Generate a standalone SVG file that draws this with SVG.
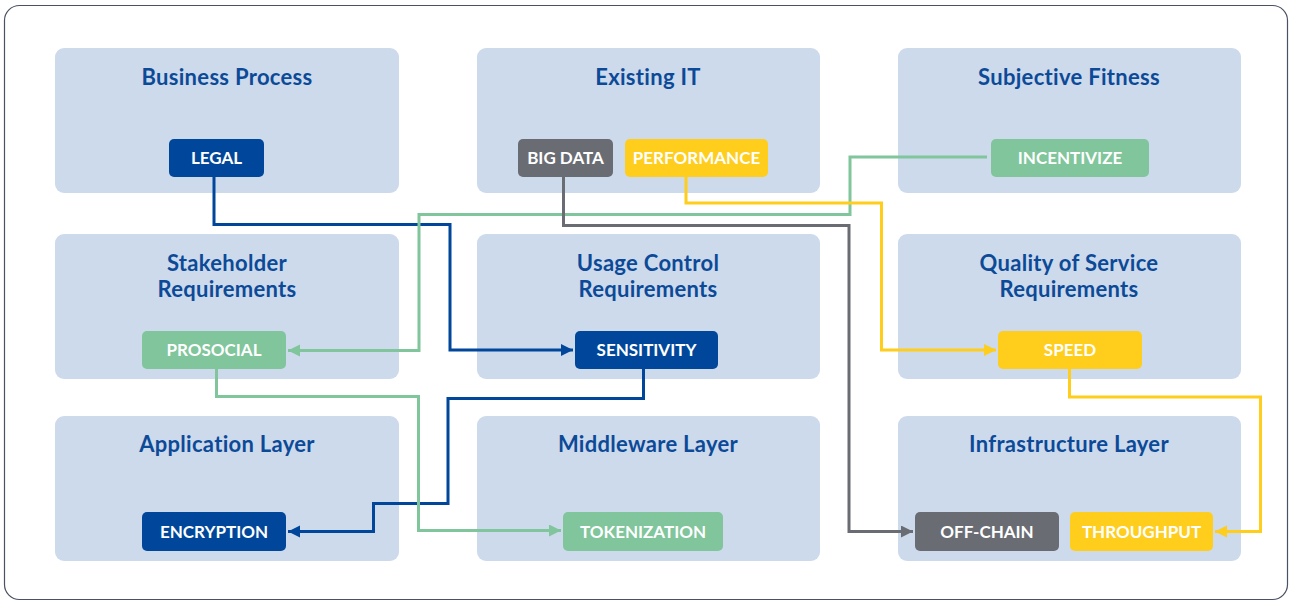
<svg xmlns="http://www.w3.org/2000/svg" width="1291" height="603" viewBox="0 0 1291 603">
<defs>
<style>
.panel{fill:#ccdaec}
.title{font-family:Lato,"Open Sans",sans-serif;font-weight:700;font-size:22px;fill:#0c4a98;text-anchor:middle;letter-spacing:0.3px}
.chip text{font-family:Lato,"Open Sans",sans-serif;font-weight:700;font-size:17px;fill:#ffffff;text-anchor:middle}
.blue{fill:#00479b}.gray{fill:#6a6c74}.yellow{fill:#ffcd1c}.green{fill:#80c59b}
.c{fill:none;stroke-width:3;stroke-linejoin:miter}
.cb{stroke:#00479b}.cg{stroke:#80c59b}.cy{stroke:#ffcd1c}.cd{stroke:#6a6c74}
</style>
<marker id="ab" markerUnits="userSpaceOnUse" markerWidth="14" markerHeight="14" refX="12" refY="6" orient="auto"><path d="M0,0L12,6L0,12z" fill="#00479b"/></marker>
<marker id="ag" markerUnits="userSpaceOnUse" markerWidth="14" markerHeight="14" refX="12" refY="6" orient="auto"><path d="M0,0L12,6L0,12z" fill="#80c59b"/></marker>
<marker id="ay" markerUnits="userSpaceOnUse" markerWidth="14" markerHeight="14" refX="12" refY="6" orient="auto"><path d="M0,0L12,6L0,12z" fill="#ffcd1c"/></marker>
<marker id="ad" markerUnits="userSpaceOnUse" markerWidth="14" markerHeight="14" refX="12" refY="6" orient="auto"><path d="M0,0L12,6L0,12z" fill="#6a6c74"/></marker>
</defs>
<rect x="4.5" y="5.5" width="1283" height="594" rx="15" fill="#ffffff" stroke="#4a5162" stroke-width="1.2"/>

<g id="panel-business-process"><rect class="panel" x="55" y="48" width="344" height="145" rx="9"/><text class="title" x="227" y="85">Business Process</text></g>
<g id="panel-existing-it"><rect class="panel" x="477" y="48" width="343" height="145" rx="9"/><text class="title" x="648" y="85">Existing IT</text></g>
<g id="panel-subjective-fitness"><rect class="panel" x="898" y="48" width="343" height="145" rx="9"/><text class="title" x="1069" y="85">Subjective Fitness</text></g>
<g id="panel-stakeholder"><rect class="panel" x="55" y="234" width="344" height="145" rx="9"/><text class="title" x="227" y="271">Stakeholder</text><text class="title" x="227" y="297">Requirements</text></g>
<g id="panel-usage-control"><rect class="panel" x="477" y="234" width="343" height="145" rx="9"/><text class="title" x="648" y="271">Usage Control</text><text class="title" x="648" y="297">Requirements</text></g>
<g id="panel-qos"><rect class="panel" x="898" y="234" width="343" height="145" rx="9"/><text class="title" x="1069" y="271">Quality of Service</text><text class="title" x="1069" y="297">Requirements</text></g>
<g id="panel-application"><rect class="panel" x="55" y="416" width="344" height="145" rx="9"/><text class="title" x="227" y="452">Application Layer</text></g>
<g id="panel-middleware"><rect class="panel" x="477" y="416" width="343" height="145" rx="9"/><text class="title" x="648" y="452">Middleware Layer</text></g>
<g id="panel-infrastructure"><rect class="panel" x="898" y="416" width="343" height="145" rx="9"/><text class="title" x="1069" y="452">Infrastructure Layer</text></g>

<g id="connectors">
<path class="c cb" d="M214,177V224.5H450V350H573" marker-end="url(#ab)"/>
<path class="c cb" d="M643.5,369V398.5H448V503.5H373.5V531.5H288" marker-end="url(#ab)"/>
<path class="c cg" d="M987,157H850V214.5H419V350.5H288" marker-end="url(#ag)"/>
<path class="c cg" d="M216.5,369V396.5H418.5V530.5H561" marker-end="url(#ag)"/>
<path class="c cd" d="M563.5,177V225.5H849V531.5H913" marker-end="url(#ad)"/>
<path class="c cy" d="M686,177V203H881.5V350H996" marker-end="url(#ay)"/>
<path class="c cy" d="M1069.5,369V397H1260.5V531.5H1215" marker-end="url(#ay)"/>
</g>

<g id="chip-legal" class="chip"><rect class="blue" x="169" y="139" width="95" height="38" rx="5"/><text x="216.5" y="164">LEGAL</text></g>
<g id="chip-big-data" class="chip"><rect class="gray" x="518" y="139" width="95" height="38" rx="5"/><text x="565.5" y="164">BIG DATA</text></g>
<g id="chip-performance" class="chip"><rect class="yellow" x="625" y="139" width="143" height="38" rx="5"/><text x="696.5" y="164">PERFORMANCE</text></g>
<g id="chip-incentivize" class="chip"><rect class="green" x="991" y="139" width="158" height="38" rx="5"/><text x="1070" y="164">INCENTIVIZE</text></g>
<g id="chip-prosocial" class="chip"><rect class="green" x="142" y="331" width="144" height="38" rx="5"/><text x="214" y="356">PROSOCIAL</text></g>
<g id="chip-sensitivity" class="chip"><rect class="blue" x="575" y="331" width="143" height="38" rx="5"/><text x="646.5" y="356">SENSITIVITY</text></g>
<g id="chip-speed" class="chip"><rect class="yellow" x="998" y="331" width="144" height="38" rx="5"/><text x="1070" y="356">SPEED</text></g>
<g id="chip-encryption" class="chip"><rect class="blue" x="142" y="512" width="144" height="39" rx="5"/><text x="214" y="538">ENCRYPTION</text></g>
<g id="chip-tokenization" class="chip"><rect class="green" x="563" y="512" width="160" height="39" rx="5"/><text x="643" y="538">TOKENIZATION</text></g>
<g id="chip-off-chain" class="chip"><rect class="gray" x="915" y="512" width="144" height="39" rx="5"/><text x="987" y="538">OFF-CHAIN</text></g>
<g id="chip-throughput" class="chip"><rect class="yellow" x="1070" y="512" width="143" height="39" rx="5"/><text x="1141.5" y="538">THROUGHPUT</text></g>
</svg>
